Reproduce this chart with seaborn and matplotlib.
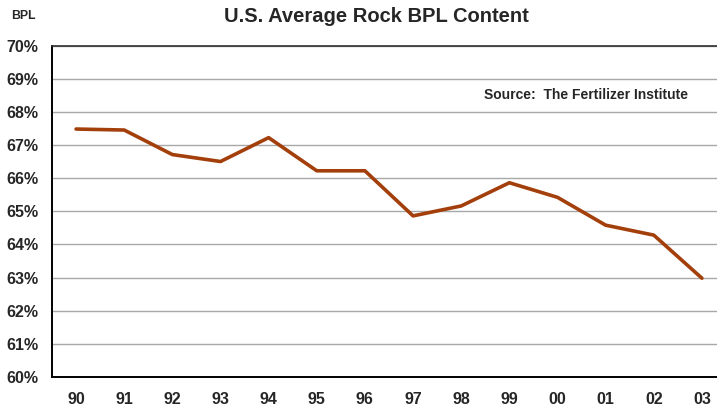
import matplotlib
matplotlib.use("Agg")
import matplotlib.pyplot as plt
import pandas as pd
import seaborn as sns

years = ["90", "91", "92", "93", "94", "95", "96", "97", "98", "99", "00", "01", "02", "03"]
bpl = [67.48, 67.45, 66.71, 66.50, 67.22, 66.22, 66.22, 64.86, 65.16, 65.86, 65.42, 64.58, 64.28, 62.98]
yticks = [60, 61, 62, 63, 64, 65, 66, 67, 68, 69, 70]

sns.set_style("white")
plt.rcParams['font.family'] = ['Liberation Sans', 'DejaVu Sans']

df = pd.DataFrame({'year': years, 'bpl': bpl})

fig = plt.figure(figsize=(7.17, 4.12), dpi=100)
ax = fig.add_axes([52 / 717, 1 - 377 / 412, 674 / 717, (377 - 45.5) / 412])

sns.lineplot(data=df, x='year', y='bpl', ax=ax, color='#A33F0B', linewidth=2.6,
             sort=False, zorder=3)

ax.set_xlim(-0.5, len(years) - 0.5)
ax.set_ylim(60, 70)
ax.set_yticks(yticks)
ax.set_yticklabels([f"{v}%" for v in yticks])
ax.set_xticks(range(len(years)))
ax.set_xticklabels(years)
ax.tick_params(axis='both', length=0, labelsize=11.5)
ax.tick_params(axis='y', pad=10)
ax.tick_params(axis='x', pad=11)
for lab in ax.get_xticklabels() + ax.get_yticklabels():
    lab.set_fontweight('bold')

ax.grid(axis='y', color='#A8A8A8', linewidth=1.0)
ax.set_xlabel('')
ax.set_ylabel('')
for side in ['left', 'bottom']:
    ax.spines[side].set_color('black')
    ax.spines[side].set_linewidth(1.4)
ax.spines['top'].set_color('#303030')
ax.spines['top'].set_linewidth(1.2)
ax.spines['right'].set_visible(False)

fig.text(376 / 717, 1 - 17 / 412, 'U.S. Average Rock BPL Content', ha='center', va='center',
         fontsize=14.5, fontweight='bold')
fig.text(23 / 717, 1 - 16 / 412, 'BPL', ha='center', va='center', fontsize=8.8, fontweight='bold')
fig.text(586 / 717, 1 - 95 / 412, 'Source:  The Fertilizer Institute', ha='center', va='center',
         fontsize=10, fontweight='bold')

fig.savefig('out.png', dpi=100)
